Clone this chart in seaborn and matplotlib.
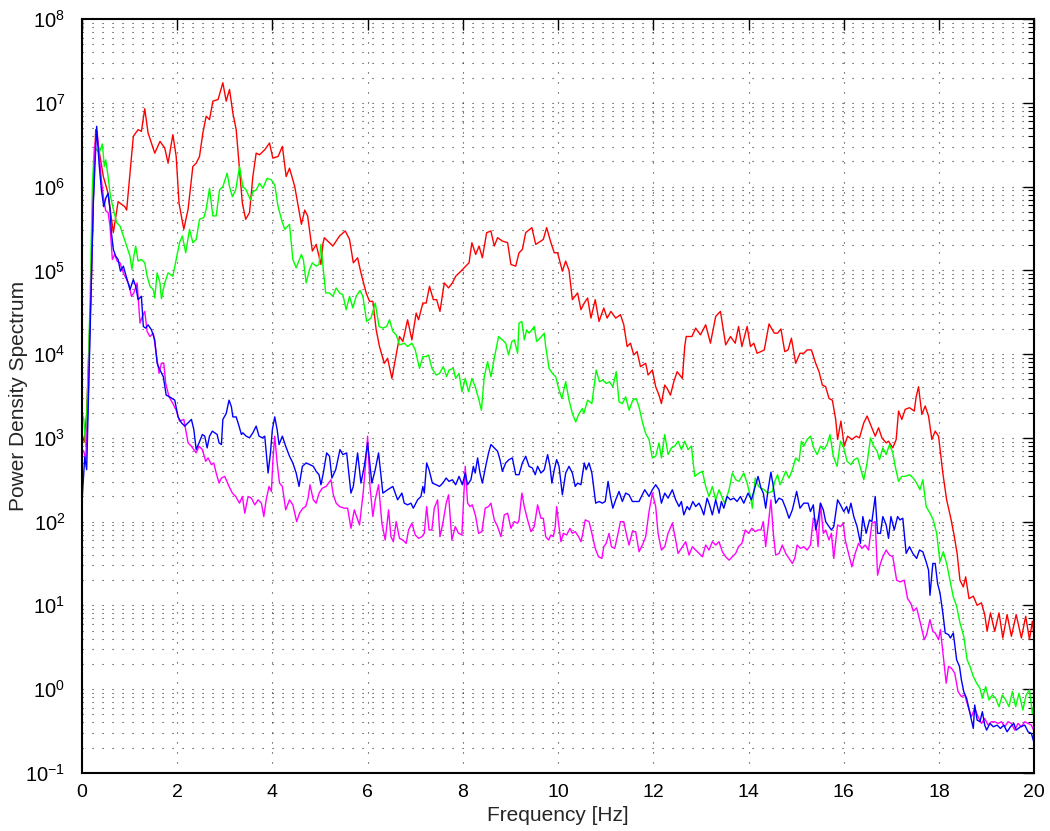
import numpy as np
import pandas as pd
import matplotlib
matplotlib.use("Agg")
import matplotlib.pyplot as plt
import matplotlib.ticker as mticker
import seaborn as sns

# ---------------- data (log10 of power density) ----------------
red_freq = [0, 0.05, 0.10, 0.15, 0.20, 0.25, 0.29, 0.45, 0.55, 0.66, 0.76, 0.90, 0.94, 1.08, 1.18, 1.25, 1.32, 1.39, 1.53, 1.64,
            1.74, 1.81, 1.91, 1.98, 2.04, 2.14, 2.23, 2.33, 2.40, 2.47, 2.54, 2.61, 2.68, 2.75, 2.86, 2.96, 3.03, 3.10, 3.17, 3.24,
            3.31, 3.37, 3.44, 3.52, 3.59, 3.66, 3.73, 3.84, 3.94, 4.01, 4.12, 4.21, 4.29,
            4.36, 4.47, 4.61, 4.68, 4.74, 4.84, 4.92, 5.02, 5.06, 5.09, 5.20, 5.27, 5.41, 5.53, 5.62, 5.70, 5.79, 5.86, 5.97, 6.04,
            6.11, 6.18, 6.25, 6.35, 6.42, 6.51, 6.58, 6.67, 6.74, 6.84, 6.93, 7.02, 7.07, 7.16, 7.23, 7.30, 7.38, 7.45, 7.52, 7.61,
            7.70, 7.78, 7.85, 7.96, 8.06, 8.13, 8.19, 8.27, 8.34, 8.41, 8.50, 8.59, 8.66, 8.73, 8.83, 8.94, 9.01, 9.11,
            9.18, 9.25, 9.32, 9.45, 9.53, 9.64, 9.69, 9.76, 9.85, 9.92, 9.99, 10.09, 10.16, 10.23, 10.30, 10.41, 10.48, 10.55, 10.62,
            10.69, 10.78, 10.86, 10.96, 11.03, 11.11, 11.21, 11.31, 11.38, 11.45, 11.52, 11.59, 11.66, 11.73, 11.84, 11.89, 11.98,
            12.05, 12.12, 12.17, 12.24, 12.29, 12.36, 12.43, 12.50, 12.61, 12.66, 12.69, 12.75, 12.81, 12.89, 12.99, 13.10, 13.20,
            13.31, 13.41, 13.52, 13.62, 13.72, 13.79, 13.86, 13.97, 14.04, 14.11, 14.18,
            14.26, 14.33, 14.43, 14.54, 14.61, 14.68, 14.76, 14.83, 14.90, 14.99, 15.08, 15.16, 15.23, 15.32, 15.41, 15.48, 15.55,
            15.62, 15.69, 15.76, 15.83, 15.87, 15.94, 16.01, 16.08, 16.17, 16.26, 16.33, 16.42, 16.49, 16.56, 16.66, 16.73, 16.80,
            16.89, 16.94, 17.03, 17.10, 17.15, 17.22, 17.29, 17.38, 17.48, 17.52, 17.57, 17.64, 17.71, 17.78, 17.85, 17.92, 17.99,
            18.08, 18.16, 18.24, 18.31, 18.38, 18.44, 18.51, 18.56, 18.63, 18.72, 18.80, 18.89, 18.96, 19.01, 19.08, 19.17, 19.26,
            19.34, 19.43, 19.52, 19.62, 19.73, 19.82, 19.90, 19.96, 20.0]
red_log10 = [3.05, 2.95, 3.3, 4.1, 4.9, 6.1, 6.68, 6.12, 5.92, 5.45, 5.82, 5.76, 5.72, 6.60, 6.68, 6.66, 6.93, 6.64, 6.40, 6.54,
             6.46, 6.28, 6.62, 6.36, 5.80, 5.49, 5.73, 6.24, 6.28, 6.36, 6.64, 6.84, 6.80, 7.02, 7.04, 7.24, 7.02, 7.16, 6.88, 6.68,
             6.20, 5.80, 5.61, 5.69, 6.12, 6.40, 6.38, 6.44, 6.52, 6.34, 6.36, 6.48, 6.12,
             6.22, 6.00, 5.55, 5.72, 5.65, 5.23, 5.31, 5.07, 5.31, 5.39, 5.33, 5.29, 5.41, 5.47, 5.37, 5.09, 5.15, 4.97, 4.73, 4.63,
             4.63, 4.29, 4.09, 3.89, 3.95, 3.71, 3.93, 4.21, 4.15, 4.41, 4.17, 4.49, 4.41, 4.61, 4.61, 4.81, 4.65, 4.65, 4.51, 4.85,
             4.79, 4.85, 4.93, 4.99, 5.05, 5.09, 5.33, 5.19, 5.29, 5.15, 5.45, 5.47, 5.29, 5.39, 5.35, 5.33, 5.07, 5.05,
             5.21, 5.25, 5.45, 5.51, 5.31, 5.35, 5.37, 5.51, 5.33, 5.21, 5.21, 4.99, 5.11, 5.00, 4.65, 4.73, 4.53, 4.61, 4.67,
             4.43, 4.65, 4.39, 4.55, 4.43, 4.51, 4.43, 4.47, 4.35, 4.09, 4.13, 3.99, 4.03, 3.85, 3.89, 3.75, 3.81,
             3.61, 3.51, 3.41, 3.63, 3.59, 3.51, 3.67, 3.79, 3.71, 4.09, 4.21, 4.21, 4.21, 4.31, 4.23, 4.35, 4.13,
             4.45, 4.51, 4.11, 4.21, 4.13, 4.33, 4.09, 4.33, 4.09, 4.13, 4.01,
             4.03, 4.05, 4.36, 4.25, 4.25, 4.30, 4.03, 4.05, 4.19, 3.89, 4.01, 4.01, 4.05, 4.05, 3.89, 3.79, 3.63,
             3.61, 3.47, 3.45, 3.22, 2.98, 3.20, 2.90, 3.02, 2.98, 3.02, 3.00, 3.18, 3.26, 3.16, 3.02, 3.12, 3.00,
             2.94, 2.96, 2.88, 2.98, 3.32, 3.22, 3.34, 3.36, 3.32, 3.49, 3.61, 3.28, 3.38, 3.26, 2.98, 3.08, 3.02,
             2.58, 2.26, 2.06, 1.86, 1.62, 1.30, 1.22, 1.34, 1.08, 1.11, 1.00, 1.03, 0.89, 0.69, 0.91, 0.69, 0.91,
             0.61, 0.89, 0.63, 0.89, 0.61, 0.87, 0.59, 0.81, 0.61]

green_freq = [0, 0.04, 0.08, 0.12, 0.17, 0.22, 0.26, 0.31, 0.36, 0.43, 0.47, 0.50, 0.55, 0.60, 0.66, 0.73, 0.80, 0.87, 0.94, 1.01,
              1.05, 1.09, 1.13, 1.18, 1.25, 1.32, 1.37, 1.43, 1.50, 1.53, 1.58, 1.64, 1.67, 1.74, 1.81, 1.91, 1.98, 2.05, 2.11,
              2.18, 2.26, 2.33, 2.40, 2.47, 2.56, 2.61, 2.68, 2.75, 2.82, 2.89, 2.96, 3.05, 3.10, 3.16, 3.23, 3.31, 3.38, 3.45,
              3.54, 3.59, 3.66, 3.73, 3.80, 3.89, 3.98, 4.05, 4.12, 4.21, 4.26,
              4.36, 4.43, 4.50, 4.61, 4.65, 4.71, 4.78, 4.84, 4.92, 4.98, 5.02, 5.07, 5.12, 5.20, 5.27, 5.34, 5.41, 5.48, 5.55,
              5.62, 5.69, 5.76, 5.84, 5.90, 5.98, 6.07, 6.16, 6.24, 6.32, 6.40, 6.46, 6.53, 6.60, 6.67, 6.77, 6.84, 6.93, 7.00,
              7.09, 7.16, 7.23, 7.28, 7.35, 7.44, 7.51, 7.59, 7.66, 7.71, 7.80, 7.85, 7.92, 7.98, 8.05, 8.12, 8.19, 8.26, 8.33,
              8.39, 8.45, 8.52, 8.59, 8.66, 8.75, 8.83, 8.90, 8.96, 9.03, 9.08, 9.15,
              9.18, 9.24, 9.29, 9.34, 9.39, 9.45, 9.50, 9.55, 9.62, 9.71, 9.74, 9.81, 9.88, 9.95, 10.01, 10.08, 10.16, 10.23,
              10.30, 10.37, 10.44, 10.51, 10.54, 10.62, 10.71, 10.80, 10.87, 10.94, 11.01, 11.08, 11.15, 11.22, 11.28, 11.35,
              11.42, 11.49, 11.57, 11.64, 11.70, 11.77, 11.84, 11.91, 11.98, 12.05, 12.12, 12.17, 12.24, 12.31, 12.38, 12.45,
              12.52, 12.59, 12.66, 12.73, 12.80, 12.87, 12.96, 13.03, 13.10, 13.17, 13.24, 13.31, 13.38, 13.45, 13.50, 13.59,
              13.66, 13.73, 13.80, 13.90, 13.97, 14.04, 14.08, 14.14, 14.21,
              14.26, 14.33, 14.40, 14.50, 14.55, 14.61, 14.66, 14.71, 14.78, 14.85, 14.92, 14.99, 15.06, 15.11, 15.16, 15.23,
              15.30, 15.37, 15.44, 15.51, 15.58, 15.65, 15.71, 15.78, 15.86, 15.93, 16.00, 16.07, 16.15, 16.22, 16.29, 16.36,
              16.42, 16.49, 16.56, 16.63, 16.70, 16.75, 16.82, 16.89, 16.96, 17.03, 17.08, 17.15, 17.22, 17.29, 17.38, 17.46,
              17.53, 17.60, 17.66, 17.73, 17.81, 17.88, 17.95, 18.02, 18.09, 18.16, 18.23, 18.30, 18.37, 18.44, 18.52, 18.59,
              18.65, 18.72, 18.79, 18.86, 18.91, 18.98, 19.05, 19.12, 19.19, 19.26, 19.33, 19.40, 19.47, 19.54, 19.61, 19.68,
              19.76, 19.83, 19.90, 19.96, 20.0]
green_log10 = [3.30, 3.22, 2.90, 3.6, 4.6, 6.0, 6.48, 6.44, 6.40, 6.51, 6.24, 6.32, 6.12, 5.88, 5.73, 5.57, 5.53, 5.41, 5.29, 5.17,
               5.01, 5.17, 5.29, 5.11, 5.13, 5.09, 4.93, 4.81, 4.77, 4.67, 4.97, 4.85, 4.66, 4.85, 4.97, 4.93, 5.13, 5.33, 5.41,
               5.21, 5.49, 5.33, 5.37, 5.61, 5.63, 5.73, 5.98, 5.65, 5.65, 5.96, 6.00, 6.16, 6.00, 5.88, 5.96, 6.24, 6.00, 5.96,
               5.84, 5.94, 5.96, 6.04, 5.98, 6.10, 6.08, 6.02, 5.76, 5.57, 5.49,
               5.55, 5.13, 5.03, 5.19, 5.13, 4.85, 5.01, 5.09, 5.05, 5.07, 5.31, 5.01, 4.73, 4.73, 4.69, 4.79, 4.73, 4.71, 4.53,
               4.69, 4.55, 4.69, 4.76, 4.69, 4.39, 4.43, 4.61, 4.33, 4.31, 4.33, 4.41, 4.27, 4.23, 4.11, 4.13, 4.09, 4.13, 4.05,
               3.83, 3.97, 3.97, 3.99, 3.83, 3.75, 3.77, 3.85, 3.73, 3.81, 3.83, 3.71, 3.77, 3.55, 3.71, 3.55, 3.71, 3.61, 3.47,
               3.33, 3.73, 3.91, 3.73, 3.95, 4.21, 4.17, 4.13, 3.99, 4.15, 4.17, 4.01,
               4.37, 4.39, 4.17, 4.29, 4.25, 4.29, 4.33, 4.15, 4.19, 4.25, 4.09, 3.83, 3.77, 3.73, 3.59, 3.47, 3.67, 3.45,
               3.29, 3.19, 3.29, 3.35, 3.29, 3.45, 3.41, 3.81, 3.67, 3.69, 3.65, 3.67, 3.61, 3.79, 3.43, 3.41,
               3.49, 3.33, 3.45, 3.47, 3.37, 3.19, 3.05, 2.98, 2.76, 2.78, 2.94, 2.76, 3.04, 2.80, 2.88, 2.90,
               2.96, 2.86, 2.96, 2.86, 2.90, 2.54, 2.58, 2.60, 2.42, 2.30, 2.42, 2.26, 2.38, 2.28, 2.22, 2.38,
               2.58, 2.50, 2.48, 2.58, 2.46, 2.30, 2.16, 2.52, 2.42,
               2.40, 2.38, 2.34, 2.36, 2.48, 2.56, 2.44, 2.50, 2.60, 2.52, 2.62, 2.76, 2.72, 2.96, 2.90, 2.98,
               3.02, 2.88, 2.80, 2.90, 2.86, 2.92, 3.04, 2.78, 2.66, 2.96, 2.88, 2.72, 2.68, 2.74, 2.76, 2.62,
               2.50, 2.70, 3.00, 2.90, 2.84, 2.74, 2.88, 2.80, 2.92, 2.82, 2.66, 2.48, 2.54, 2.54, 2.56, 2.52,
               2.46, 2.38, 2.50, 2.18, 2.10, 2.02, 1.86, 1.52, 1.64, 1.50, 1.30, 1.10, 0.99, 0.79, 0.63, 0.35,
               0.27, 0.15, 0.07, 0.01, -0.11, 0.03, -0.13, -0.07, -0.11, -0.21, -0.07, -0.13, -0.21, -0.03, -0.21, -0.05,
               -0.25, -0.07, -0.01, -0.29, -0.17]

blue_freq = [0, 0.06, 0.10, 0.13, 0.17, 0.24, 0.31, 0.36, 0.41, 0.46, 0.50, 0.55, 0.59, 0.62, 0.66, 0.71, 0.76, 0.81, 0.87, 0.92,
             1.01, 1.08, 1.13, 1.18, 1.25, 1.29, 1.34, 1.39, 1.46, 1.53, 1.58, 1.64, 1.71, 1.77, 1.84, 1.95, 2.02, 2.09, 2.16,
             2.23, 2.30, 2.35, 2.40, 2.46, 2.53, 2.58, 2.63, 2.68, 2.74, 2.79, 2.84, 2.88, 2.93, 2.96, 3.03, 3.09, 3.14, 3.17,
             3.24, 3.30, 3.35, 3.38, 3.45, 3.52, 3.59, 3.66, 3.72, 3.79, 3.84, 3.91, 3.96, 4.00, 4.05, 4.10, 4.14, 4.21, 4.28,
             4.36, 4.43, 4.50, 4.56, 4.63, 4.71, 4.79, 4.86, 4.92, 4.98, 5.02, 5.07, 5.14, 5.20, 5.25, 5.33, 5.42, 5.48, 5.56,
             5.65, 5.70, 5.79, 5.86, 5.93, 6.00, 6.09, 6.16, 6.23, 6.32, 6.42, 6.53, 6.63, 6.72, 6.77, 6.84, 6.91, 6.96, 7.05,
             7.12, 7.16, 7.19, 7.24, 7.29, 7.36, 7.44, 7.51, 7.58, 7.65, 7.71, 7.78, 7.85, 7.92, 7.99, 8.05, 8.10, 8.17, 8.22,
             8.26, 8.31, 8.36, 8.41, 8.48, 8.54, 8.59, 8.66, 8.73, 8.78, 8.83, 8.90, 8.97, 9.04, 9.11,
             9.18, 9.25, 9.32, 9.39, 9.46, 9.52, 9.57, 9.64, 9.71, 9.78, 9.83, 9.87, 9.92, 9.97, 10.02, 10.09, 10.16, 10.23,
             10.30, 10.36, 10.41, 10.48, 10.55, 10.59, 10.65, 10.71, 10.79, 10.86, 10.93, 10.99, 11.05, 11.10, 11.15, 11.21,
             11.28, 11.35, 11.42, 11.49, 11.56, 11.63, 11.70, 11.75, 11.82, 11.91, 11.98, 12.05, 12.12, 12.17, 12.24, 12.31,
             12.40, 12.47, 12.54, 12.59, 12.64, 12.71, 12.76, 12.83, 12.89, 12.96, 13.01, 13.06, 13.13, 13.18, 13.24, 13.31,
             13.38, 13.43, 13.48, 13.55, 13.62, 13.69, 13.76, 13.83, 13.90, 13.99, 14.06, 14.14, 14.20,
             14.26, 14.31, 14.36, 14.41, 14.47, 14.52, 14.57, 14.64, 14.71, 14.78, 14.85, 14.92, 15.01, 15.08, 15.16, 15.25,
             15.30, 15.36, 15.41, 15.46, 15.51, 15.57, 15.62, 15.69, 15.74, 15.79, 15.87, 15.93, 16.00, 16.06, 16.10, 16.15,
             16.21, 16.28, 16.35, 16.40, 16.47, 16.54, 16.59, 16.66, 16.71, 16.77, 16.82, 16.89, 16.94, 16.99, 17.06, 17.13,
             17.18, 17.24, 17.31, 17.38, 17.45, 17.53, 17.59, 17.66, 17.73, 17.78, 17.81, 17.87, 17.92, 17.97, 18.02, 18.08,
             18.13, 18.20, 18.24, 18.30, 18.37, 18.43, 18.47, 18.52, 18.58, 18.65, 18.72, 18.75, 18.80, 18.86, 18.91, 18.96,
             19.00, 19.07, 19.14, 19.22, 19.29, 19.36, 19.43, 19.50, 19.57, 19.62, 19.71, 19.80, 19.87, 19.94, 20.0]
blue_log10 = [2.22, 2.77, 2.62, 3.3, 4.2, 5.8, 6.72, 6.28, 5.96, 5.76, 5.86, 5.92, 5.73, 5.45, 5.25, 5.17, 5.13, 4.99, 5.05, 4.95,
              4.77, 4.89, 4.81, 4.65, 4.69, 4.33, 4.31, 4.35, 4.29, 4.17, 3.89, 3.81, 3.73, 3.51, 3.49, 3.45, 3.25, 3.18, 3.14,
              3.18, 3.22, 3.10, 2.86, 2.94, 3.04, 3.02, 2.88, 3.02, 3.08, 3.06, 3.04, 2.94, 2.92, 3.22, 3.29, 3.45, 3.37, 3.25,
              3.25, 3.14, 3.04, 3.06, 3.02, 3.00, 3.06, 3.14, 3.02, 3.00, 3.02, 2.58, 2.82, 3.10, 3.25, 3.10, 2.92, 3.02, 2.90,
              2.78, 2.70, 2.58, 2.42, 2.66, 2.70, 2.68, 2.66, 2.60, 2.56, 2.44, 2.58, 2.82, 2.78, 2.52, 2.62, 2.86, 2.80, 2.82,
              2.34, 2.42, 2.82, 2.46, 2.66, 2.94, 2.46, 2.62, 2.82, 2.34, 2.38, 2.42, 2.26, 2.34, 2.22, 2.20, 2.22, 2.16, 2.26,
              2.30, 2.42, 2.34, 2.70, 2.62, 2.46, 2.44, 2.42, 2.46, 2.52, 2.48, 2.50, 2.44, 2.54, 2.44, 2.58, 2.44, 2.50, 2.66,
              2.58, 2.76, 2.58, 2.46, 2.66, 2.82, 2.92, 2.88, 2.84, 2.74, 2.60, 2.70, 2.74, 2.76, 2.56,
              2.56, 2.70, 2.78, 2.66, 2.64, 2.56, 2.66, 2.58, 2.62, 2.80, 2.66, 2.46, 2.62, 2.74, 2.66, 2.32, 2.58, 2.66,
              2.58, 2.42, 2.46, 2.44, 2.70, 2.62, 2.70, 2.58, 2.22, 2.24, 2.22, 2.24, 2.48, 2.30, 2.16, 2.26,
              2.36, 2.24, 2.34, 2.32, 2.24, 2.24, 2.24, 2.30, 2.38, 2.30, 2.38, 2.44, 2.38, 2.22, 2.34, 2.28,
              2.38, 2.26, 2.18, 2.24, 2.08, 2.18, 2.14, 2.24, 2.18, 2.22, 2.16, 2.08, 2.28, 2.20, 2.08, 2.26,
              2.10, 2.24, 2.16, 2.30, 2.26, 2.28, 2.24, 2.30, 2.22, 2.34, 2.26, 2.42, 2.54,
              2.40, 2.34, 2.16, 2.38, 2.59, 2.42, 2.22, 2.28, 2.26, 2.16, 2.04, 2.14, 2.36, 2.16, 2.22, 2.22,
              2.12, 2.20, 1.90, 2.02, 2.22, 2.14, 2.00, 1.94, 1.90, 1.94, 2.26, 2.20, 2.12, 2.18, 2.10, 2.22,
              2.06, 1.94, 1.74, 2.06, 1.86, 2.02, 2.00, 2.30, 1.86, 1.86, 2.06, 1.96, 1.80, 2.06, 1.90, 2.06,
              2.02, 2.04, 1.62, 1.70, 1.62, 1.56, 1.66, 1.64, 1.52, 1.42, 1.12, 1.50, 1.50, 1.26, 1.15, 0.91,
              0.67, 0.65, 0.61, 0.67, 0.35, 0.27, 0.11, -0.03, -0.11, -0.29, -0.47, -0.19, -0.37, -0.39, -0.27, -0.43,
              -0.49, -0.41, -0.45, -0.43, -0.47, -0.43, -0.51, -0.45, -0.41, -0.49, -0.45, -0.43, -0.51, -0.53, -0.65]

magenta_freq = [0, 0.04, 0.08, 0.13, 0.20, 0.27, 0.32, 0.36, 0.41, 0.45, 0.50, 0.55, 0.59, 0.64, 0.69, 0.74, 0.80, 0.87, 0.94,
                0.99, 1.04, 1.09, 1.16, 1.22, 1.27, 1.32, 1.37, 1.43, 1.50, 1.57, 1.62, 1.67, 1.72, 1.76, 1.83, 1.91, 1.98,
                2.05, 2.14, 2.23, 2.30, 2.40, 2.46, 2.53, 2.60, 2.65, 2.72, 2.77, 2.82, 2.88, 2.93, 3.00, 3.09, 3.16, 3.23,
                3.31, 3.37, 3.42, 3.49, 3.56, 3.63, 3.70, 3.77, 3.82, 3.87, 3.93, 3.98, 4.01, 4.05, 4.10, 4.15, 4.21, 4.28,
                4.36, 4.43, 4.51, 4.57, 4.64, 4.70, 4.75, 4.79, 4.86, 4.92, 4.98, 5.05, 5.13, 5.23, 5.28, 5.34, 5.41, 5.51,
                5.58, 5.65, 5.72, 5.83, 5.91, 5.97, 6.00, 6.05, 6.11, 6.16, 6.23, 6.30, 6.37, 6.44, 6.49, 6.54, 6.60, 6.67,
                6.74, 6.81, 6.86, 6.93, 7.00, 7.07, 7.14, 7.19, 7.24, 7.29, 7.35, 7.40, 7.47, 7.52, 7.58, 7.65, 7.70, 7.77,
                7.84, 7.91, 7.98, 8.05, 8.10, 8.15, 8.20, 8.27, 8.33, 8.40, 8.47, 8.54, 8.59, 8.66, 8.73, 8.80, 8.87, 8.94,
                9.01, 9.08, 9.15,
                9.18, 9.24, 9.29, 9.36, 9.43, 9.50, 9.57, 9.64, 9.69, 9.74, 9.80, 9.85, 9.90, 9.94, 9.97, 10.01, 10.06, 10.11,
                10.18, 10.25, 10.30, 10.36, 10.43, 10.48, 10.52, 10.57, 10.65, 10.71, 10.78, 10.85, 10.92, 10.96, 11.01,
                11.07, 11.12, 11.19, 11.26, 11.31, 11.38, 11.43, 11.49, 11.56, 11.63, 11.70, 11.77, 11.84, 11.91, 11.98,
                12.05, 12.10, 12.17, 12.24, 12.31, 12.40, 12.47, 12.52, 12.61, 12.68, 12.75, 12.82, 12.89, 12.96, 13.03,
                13.10, 13.17, 13.24, 13.31, 13.38, 13.45, 13.52, 13.59, 13.66, 13.73, 13.79, 13.86, 13.93, 14.00, 14.07,
                14.14, 14.20,
                14.26, 14.31, 14.36, 14.41, 14.47, 14.52, 14.57, 14.64, 14.71, 14.78, 14.85, 14.92, 14.97, 15.02, 15.09,
                15.16, 15.23, 15.30, 15.36, 15.41, 15.46, 15.51, 15.57, 15.62, 15.69, 15.74, 15.79, 15.87, 15.93, 15.99,
                16.03, 16.10, 16.17, 16.24, 16.31, 16.38, 16.45, 16.52, 16.59, 16.66, 16.71, 16.77, 16.82, 16.89, 16.96,
                17.03, 17.11, 17.18, 17.27, 17.34, 17.41, 17.46, 17.53, 17.60, 17.69, 17.74, 17.81, 17.87, 17.92, 17.99,
                18.03, 18.09, 18.15, 18.20, 18.26, 18.33, 18.40, 18.47, 18.54, 18.61, 18.68, 18.75, 18.82, 18.89, 18.96,
                19.03, 19.10, 19.17, 19.24, 19.31, 19.38, 19.45, 19.52, 19.59, 19.66, 19.73, 19.80, 19.87, 19.94, 20.0]
magenta_log10 = [2.86, 2.84, 2.74, 3.41, 5.01, 6.48, 6.66, 6.40, 6.08, 5.88, 5.71, 5.69, 5.53, 5.13, 5.19, 5.11, 5.09, 4.97, 4.89,
                 4.83, 4.69, 4.73, 4.85, 4.37, 4.45, 4.51, 4.27, 4.21, 4.25, 3.97, 3.77, 3.89, 3.89, 3.65, 3.49, 3.41, 3.33,
                 3.20, 3.22, 2.94, 2.90, 2.82, 2.90, 2.86, 2.72, 2.76, 2.68, 2.70, 2.58, 2.46, 2.52, 2.54, 2.42, 2.34, 2.30,
                 2.22, 2.30, 2.10, 2.30, 2.28, 2.20, 2.26, 2.22, 2.06, 2.26, 2.42, 2.36, 2.72, 3.02, 2.70, 2.46, 2.42, 2.14,
                 2.26, 2.20, 2.00, 2.10, 2.16, 2.18, 2.28, 2.44, 2.26, 2.22, 2.34, 2.40, 2.42, 2.50, 2.32, 2.22, 2.18, 2.16,
                 2.16, 1.92, 2.14, 1.96, 2.36, 2.78, 3.02, 2.42, 2.06, 2.26, 2.44, 1.98, 1.78, 2.14, 1.82, 1.76, 2.00, 1.80,
                 1.78, 1.74, 1.90, 1.98, 1.84, 1.80, 1.82, 1.86, 2.18, 1.90, 1.90, 2.16, 2.26, 1.82, 1.98, 2.22, 2.32, 1.78,
                 1.94, 1.86, 1.84, 2.66, 2.22, 2.18, 2.20, 2.06, 1.86, 1.88, 2.16, 2.18, 2.22, 2.02, 1.94, 1.82, 2.08, 2.10,
                 1.92, 2.00, 1.98,
                 2.02, 2.34, 2.18, 2.02, 1.88, 1.94, 2.20, 2.04, 2.04, 1.82, 1.78, 1.84, 1.82, 1.94, 2.18, 1.98, 1.76, 1.86,
                 1.84, 1.92, 1.86, 1.88, 1.82, 1.76, 1.86, 2.02, 2.00, 1.86, 1.68, 1.58, 1.56, 1.70, 1.74,
                 1.86, 1.70, 1.68, 1.86, 2.00, 2.00, 1.86, 1.72, 1.88, 1.88, 1.64, 1.72, 1.82, 2.12, 2.34,
                 2.18, 1.86, 1.66, 1.70, 1.86, 1.98, 1.78, 1.62, 1.70, 1.76, 1.60, 1.70, 1.66, 1.62, 1.58,
                 1.72, 1.66, 1.76, 1.72, 1.76, 1.64, 1.58, 1.54, 1.58, 1.62, 1.70, 1.74, 1.90, 1.86, 1.92,
                 1.88, 1.90,
                 1.90, 2.00, 1.70, 1.94, 2.26, 1.86, 1.60, 1.62, 1.72, 1.62, 1.56, 1.50, 1.56, 1.72, 1.68,
                 1.70, 1.66, 1.72, 2.04, 2.02, 1.70, 2.22, 1.86, 1.90, 1.78, 1.86, 1.56, 1.96, 1.94, 1.98,
                 1.78, 1.62, 1.46, 1.62, 1.74, 1.68, 1.72, 1.66, 1.98, 2.00, 1.36, 1.50, 1.58, 1.66, 1.60,
                 1.58, 1.30, 1.28, 1.30, 1.08, 1.02, 0.93, 0.97, 0.81, 0.59, 0.65, 0.83, 0.69, 0.67, 0.59,
                 0.71, 0.39, 0.07, 0.27, 0.25, 0.19, -0.03, -0.09, -0.07, -0.21, -0.33, -0.23, -0.33, -0.41, -0.35,
                 -0.43, -0.39, -0.39, -0.41, -0.39, -0.45, -0.39, -0.41, -0.49, -0.41, -0.45, -0.39, -0.41, -0.43, -0.51]

x_ticks = [0, 2, 4, 6, 8, 10, 12, 14, 16, 18, 20]
x_label = "Frequency [Hz]"
y_label = "Power Density Spectrum"

series = [("red", red_freq, red_log10, "#ff0000"),
          ("green", green_freq, green_log10, "#00ff00"),
          ("magenta", magenta_freq, magenta_log10, "#ff00ff"),
          ("blue", blue_freq, blue_log10, "#0000ff")]

frames = []
for name, f, lg, _ in series:
    frames.append(pd.DataFrame({"freq": f, "psd": 10.0 ** np.asarray(lg), "signal": name}))
df = pd.concat(frames, ignore_index=True)

# ---------------- figure ----------------
sns.set_theme(style="white")
plt.rcParams["font.family"] = ["Liberation Sans", "DejaVu Sans"]
plt.rcParams["mathtext.default"] = "regular"

fig = plt.figure(figsize=(10.5, 8.31), dpi=100)
ax = fig.add_axes([0.078, 0.070, 0.907, 0.907])

for name, _, _, c in series:
    sub = df[df["signal"] == name]
    sns.lineplot(data=sub, x="freq", y="psd", color=c, linewidth=1.0, estimator=None,
                 sort=False, ax=ax, legend=False)

ax.set_yscale("log")
ax.set_xlim(0, 20)
ax.set_ylim(1e-1, 1e8)
ax.set_xticks(x_ticks)
ax.set_xticklabels([str(t) for t in x_ticks])
ax.yaxis.set_major_locator(mticker.LogLocator(base=10, numticks=20))
ax.yaxis.set_minor_locator(mticker.LogLocator(base=10, subs=np.arange(2, 10), numticks=200))
ax.yaxis.set_major_formatter(mticker.LogFormatterMathtext())
ax.yaxis.set_minor_formatter(mticker.NullFormatter())

dots = (0, (1, 8))
ax.grid(True, which="major", axis="both", color="0.2", linestyle=dots, linewidth=0.8)
ax.grid(True, which="minor", axis="y", color="0.2", linestyle=dots, linewidth=0.8)
ax.set_axisbelow(True)

ax.tick_params(axis="both", which="both", direction="in", top=True, right=True, colors="black")
ax.tick_params(axis="x", which="major", labelsize=14, pad=8)
ax.tick_params(axis="y", which="major", labelsize=14.5, pad=12)
ax.tick_params(axis="both", which="major", length=8, width=1.0)
ax.tick_params(axis="y", which="minor", length=4, width=0.8)
for s in ax.spines.values():
    s.set_visible(True)
    s.set_color("black")
    s.set_linewidth(1.5)

ax.set_xlabel(x_label, fontsize=15, labelpad=4)
ax.set_ylabel(y_label, fontsize=15)
ax.yaxis.set_label_coords(-0.057, 0.5)

fig.savefig("out.png", dpi=100)
